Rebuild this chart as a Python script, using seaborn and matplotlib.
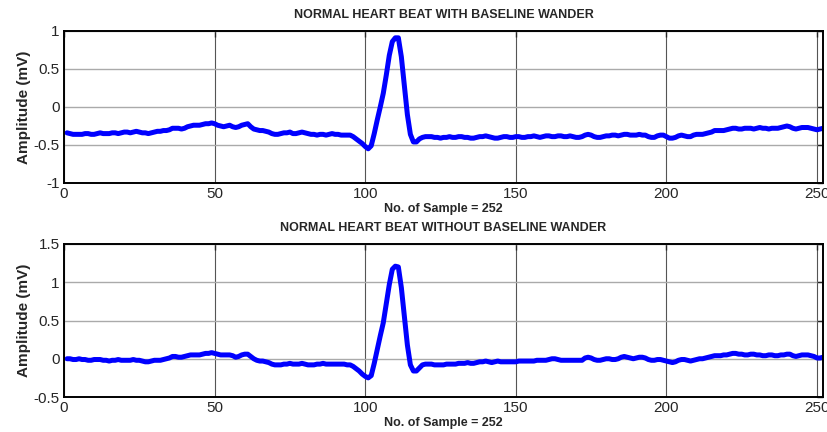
import numpy as np
import pandas as pd
import seaborn as sns
import matplotlib.pyplot as plt

# samples 1..252, amplitude in mV
with_wander = [
    -0.34, -0.35, -0.36, -0.36, -0.36, -0.36, -0.35, -0.35, -0.36, -0.36,
    -0.35, -0.34, -0.35, -0.35, -0.35, -0.34, -0.34, -0.35, -0.34, -0.33,
    -0.33, -0.34, -0.33, -0.32, -0.33, -0.34, -0.34, -0.35, -0.34, -0.33,
    -0.32, -0.32, -0.31, -0.31, -0.30, -0.28, -0.28, -0.28, -0.29, -0.28,
    -0.26, -0.25, -0.24, -0.24, -0.24, -0.23, -0.22, -0.22, -0.21, -0.22,
    -0.24, -0.25, -0.26, -0.25, -0.24, -0.26, -0.27, -0.26, -0.24, -0.23,
    -0.22, -0.26, -0.29, -0.30, -0.31, -0.31, -0.32, -0.33, -0.35, -0.36,
    -0.36, -0.35, -0.34, -0.34, -0.33, -0.35, -0.35, -0.34, -0.33, -0.34,
    -0.35, -0.36, -0.36, -0.37, -0.36, -0.36, -0.37, -0.36, -0.35, -0.36,
    -0.36, -0.37, -0.37, -0.37, -0.37, -0.39, -0.42, -0.45, -0.48, -0.52,
    -0.55, -0.51, -0.35, -0.17, 0.00, 0.18, 0.42, 0.68, 0.86, 0.91,
    0.91, 0.66, 0.28, -0.10, -0.36, -0.46, -0.46, -0.42, -0.40, -0.39,
    -0.39, -0.39, -0.40, -0.40, -0.41, -0.40, -0.40, -0.39, -0.40, -0.40,
    -0.39, -0.39, -0.40, -0.40, -0.41, -0.41, -0.40, -0.39, -0.39, -0.38,
    -0.39, -0.40, -0.41, -0.41, -0.40, -0.39, -0.39, -0.40, -0.40, -0.39,
    -0.39, -0.40, -0.40, -0.39, -0.39, -0.38, -0.39, -0.40, -0.39, -0.38,
    -0.38, -0.39, -0.39, -0.38, -0.38, -0.39, -0.39, -0.38, -0.39, -0.40,
    -0.40, -0.39, -0.37, -0.36, -0.37, -0.39, -0.40, -0.40, -0.39, -0.38,
    -0.38, -0.37, -0.37, -0.38, -0.37, -0.36, -0.36, -0.37, -0.37, -0.37,
    -0.36, -0.37, -0.37, -0.39, -0.40, -0.40, -0.38, -0.37, -0.37, -0.39,
    -0.41, -0.41, -0.40, -0.38, -0.37, -0.38, -0.39, -0.39, -0.37, -0.36,
    -0.36, -0.36, -0.35, -0.34, -0.33, -0.31, -0.31, -0.31, -0.31, -0.30,
    -0.29, -0.28, -0.28, -0.29, -0.29, -0.28, -0.28, -0.28, -0.29, -0.28,
    -0.27, -0.28, -0.28, -0.29, -0.28, -0.28, -0.28, -0.27, -0.26, -0.25,
    -0.26, -0.28, -0.29, -0.28, -0.27, -0.27, -0.27, -0.28, -0.29, -0.30,
    -0.29, -0.28,
]

without_wander = [
    0.00, 0.00, -0.01, -0.01, 0.00, -0.01, -0.01, -0.02, -0.02, -0.01,
    -0.01, -0.01, -0.02, -0.02, -0.03, -0.02, -0.02, -0.01, -0.02, -0.02,
    -0.02, -0.02, -0.01, -0.02, -0.02, -0.03, -0.04, -0.04, -0.03, -0.02,
    -0.02, -0.02, -0.01, 0.00, 0.01, 0.03, 0.03, 0.02, 0.02, 0.03,
    0.04, 0.05, 0.05, 0.05, 0.05, 0.06, 0.07, 0.07, 0.08, 0.07,
    0.06, 0.05, 0.05, 0.05, 0.05, 0.04, 0.02, 0.03, 0.05, 0.06,
    0.06, 0.03, 0.00, -0.02, -0.03, -0.03, -0.04, -0.05, -0.07, -0.08,
    -0.08, -0.08, -0.07, -0.07, -0.06, -0.07, -0.07, -0.07, -0.06, -0.07,
    -0.08, -0.08, -0.08, -0.07, -0.07, -0.06, -0.07, -0.07, -0.07, -0.07,
    -0.07, -0.07, -0.07, -0.08, -0.08, -0.10, -0.13, -0.16, -0.20, -0.23,
    -0.25, -0.22, -0.06, 0.12, 0.30, 0.47, 0.72, 0.97, 1.17, 1.21,
    1.20, 0.93, 0.55, 0.18, -0.08, -0.16, -0.16, -0.12, -0.08, -0.07,
    -0.07, -0.07, -0.08, -0.08, -0.08, -0.08, -0.07, -0.07, -0.07, -0.07,
    -0.06, -0.06, -0.06, -0.05, -0.06, -0.06, -0.05, -0.04, -0.04, -0.03,
    -0.04, -0.05, -0.04, -0.03, -0.04, -0.04, -0.04, -0.04, -0.04, -0.04,
    -0.03, -0.03, -0.03, -0.03, -0.03, -0.03, -0.02, -0.02, -0.02, -0.02,
    -0.01, 0.00, 0.00, -0.01, -0.02, -0.02, -0.02, -0.02, -0.02, -0.02,
    -0.02, -0.02, 0.01, 0.02, 0.01, -0.01, -0.02, -0.02, -0.01, 0.00,
    0.00, -0.01, -0.01, 0.00, 0.02, 0.03, 0.02, 0.01, 0.00, 0.01,
    0.02, 0.02, 0.01, -0.01, -0.02, -0.02, -0.01, -0.01, -0.02, -0.03,
    -0.04, -0.05, -0.04, -0.02, -0.01, -0.01, -0.02, -0.03, -0.02, -0.01,
    0.00, 0.00, 0.01, 0.02, 0.03, 0.04, 0.04, 0.04, 0.05, 0.05,
    0.06, 0.07, 0.07, 0.06, 0.06, 0.05, 0.05, 0.06, 0.06, 0.05,
    0.05, 0.04, 0.04, 0.05, 0.05, 0.04, 0.04, 0.05, 0.05, 0.06,
    0.06, 0.04, 0.03, 0.04, 0.05, 0.05, 0.05, 0.04, 0.03, 0.01,
    0.01, 0.02,
]

samples = list(range(1, 253))
titles = ['NORMAL HEART BEAT WITH BASELINE WANDER',
          'NORMAL HEART BEAT WITHOUT BASELINE WANDER']
y_limits = [(-1, 1), (-0.5, 1.5)]
y_ticks = [[-1, -0.5, 0, 0.5, 1], [-0.5, 0, 0.5, 1, 1.5]]
y_ticklabels = [['-1', '-0.5', '0', '0.5', '1'], ['-0.5', '0', '0.5', '1', '1.5']]
x_ticks = [0, 50, 100, 150, 200, 250]

assert len(with_wander) == 252 and len(without_wander) == 252

sns.set_style('white')
plt.rcParams['font.family'] = ['Liberation Sans', 'DejaVu Sans']
plt.rcParams['axes.unicode_minus'] = False

df = pd.DataFrame({'sample': samples, 'with': with_wander, 'without': without_wander})

fig = plt.figure(figsize=(8.28, 4.32), dpi=100)
ax1 = fig.add_axes([0.0773, 0.5764, 0.9167, 0.3519])
ax2 = fig.add_axes([0.0773, 0.0810, 0.9167, 0.3542])

for i, (ax, col) in enumerate([(ax1, 'with'), (ax2, 'without')]):
    sns.lineplot(data=df, x='sample', y=col, ax=ax, color='#0000ff', linewidth=3.6)
    ax.set_xlim(0, 252)
    ax.set_ylim(*y_limits[i])
    ax.set_xticks(x_ticks)
    ax.set_xticklabels([str(t) for t in x_ticks], fontsize=11)
    ax.set_yticks(y_ticks[i])
    ax.set_yticklabels(y_ticklabels[i], fontsize=11)
    ax.grid(True, axis='x', color='#555555', linewidth=0.8)
    ax.grid(True, axis='y', color='#aaaaaa', linewidth=1.0)
    ax.set_axisbelow(True)
    ax.tick_params(direction='in', top=True, right=True, length=4, width=1, pad=3)
    for s in ax.spines.values():
        s.set_color('black')
        s.set_linewidth(1.4)
    ax.set_title(titles[i], fontsize=9, fontweight='bold', pad=9)
    ax.set_xlabel('No. of Sample = 252', fontsize=9, fontweight='bold', labelpad=1)
    ax.set_ylabel('Amplitude (mV)', fontsize=11, fontweight='bold', labelpad=2)

fig.savefig('out.png', dpi=100)
